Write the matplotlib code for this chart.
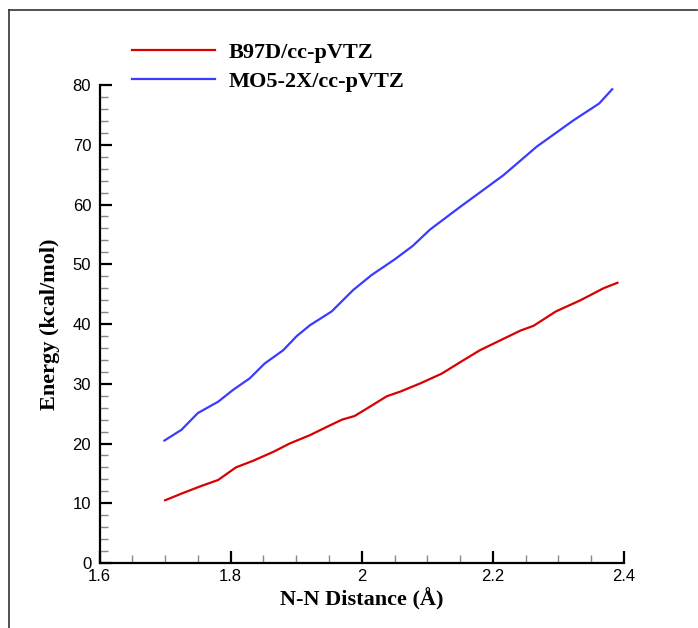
import numpy as np
import matplotlib
matplotlib.use('Agg')
import matplotlib.pyplot as plt
from matplotlib.lines import Line2D
from matplotlib.ticker import MultipleLocator


# values
b97d_x = [1.700, 1.727, 1.753, 1.781, 1.808, 1.834, 1.865, 1.890, 1.921, 1.947,
          1.970, 1.989, 2.013, 2.038, 2.059, 2.090, 2.122, 2.150, 2.180, 2.210,
          2.242, 2.262, 2.296, 2.334, 2.369, 2.390]
b97d_y = [10.5, 11.7, 12.8, 13.9, 16.0, 17.1, 18.6, 20.0, 21.4, 22.8,
          24.0, 24.6, 26.2, 27.9, 28.7, 30.1, 31.7, 33.6, 35.6, 37.2,
          38.9, 39.7, 42.1, 44.0, 46.0, 46.9]

m05_x = [1.699, 1.725, 1.750, 1.781, 1.804, 1.829, 1.852, 1.880, 1.901, 1.921,
         1.954, 1.987, 2.015, 2.050, 2.078, 2.104, 2.150, 2.216, 2.267, 2.323,
         2.362, 2.382]
m05_y = [20.5, 22.3, 25.1, 27.0, 29.0, 30.9, 33.4, 35.6, 38.0, 39.8,
         42.1, 45.7, 48.2, 50.8, 53.1, 55.8, 59.6, 64.9, 69.7, 74.1,
         76.9, 79.3]

labels = ['B97D/cc-pVTZ', 'MO5-2X/cc-pVTZ']

serif = 'Liberation Serif'
sans = 'Liberation Sans'

fig = plt.figure(figsize=(6.98, 6.28), dpi=100)
ax = fig.add_axes([0.1426, 0.1035, 0.7514, 0.7611])

ax.plot(b97d_x, b97d_y, color='#d80000', lw=1.6, label=labels[0])
ax.plot(m05_x, m05_y, color='#3b3bff', lw=1.6, label=labels[1])

ax.set_xlim(1.6, 2.4)
ax.set_ylim(0, 80)
ax.xaxis.set_major_locator(MultipleLocator(0.2))
ax.xaxis.set_minor_locator(MultipleLocator(0.05))
ax.yaxis.set_major_locator(MultipleLocator(10))
ax.yaxis.set_minor_locator(MultipleLocator(2))
ax.set_xticks([1.6, 1.8, 2.0, 2.2, 2.4], ['1.6', '1.8', '2', '2.2', '2.4'])

for s in ['top', 'right']:
    ax.spines[s].set_visible(False)
for s in ['left', 'bottom']:
    ax.spines[s].set_linewidth(1.6)

ax.tick_params(which='major', direction='in', length=8.5, width=1.6,
               labelsize=12, pad=6)
ax.tick_params(which='minor', direction='in', length=5.8, width=1.0,
               color='#888888')
ax.tick_params(axis='x', which='major', pad=4)
for t in ax.get_xticklabels() + ax.get_yticklabels():
    t.set_fontfamily(sans)

ax.set_xlabel('N-N Distance (Å)', fontfamily=serif, fontweight='bold',
              fontsize=16, labelpad=3)
ax.set_ylabel('Energy (kcal/mol)', fontfamily=serif, fontweight='bold',
              fontsize=16, labelpad=9)

ax.legend(loc='upper left', bbox_to_anchor=(0.024, 1.131), frameon=False,
          handlelength=3.75, handletextpad=0.6, labelspacing=0.38,
          prop={'family': serif, 'weight': 'bold', 'size': 16})

# thin frame at top and left edge of the picture
fig.add_artist(Line2D([9 / 698, 697 / 698], [1 - 10 / 628, 1 - 10 / 628],
                      color='#333333', lw=1.2, transform=fig.transFigure))
fig.add_artist(Line2D([9 / 698, 9 / 698], [0, 1 - 10 / 628],
                      color='#333333', lw=1.2, transform=fig.transFigure))

fig.savefig('out.png', dpi=100)
